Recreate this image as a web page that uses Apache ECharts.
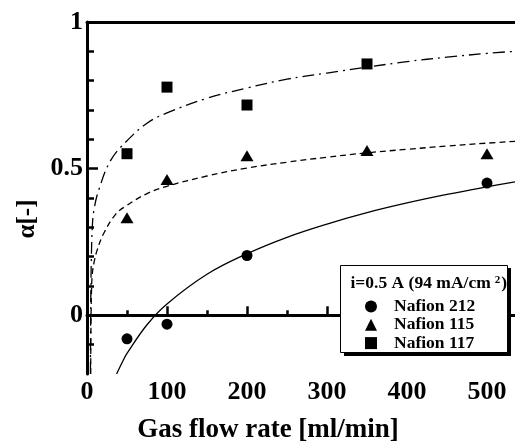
<!DOCTYPE html>
<html><head><meta charset="utf-8">
<script src="https://cdn.jsdelivr.net/npm/echarts@6/dist/echarts.min.js"></script>
<style>html,body{margin:0;padding:0;background:#fff}#c{width:515px;height:444px}</style>
</head><body><div id="c"></div>
<script>
// measured data
const x212 = [50, 100, 200, 500];
const y212 = [-0.08, -0.03, 0.204, 0.451];
const x115 = [50, 100, 200, 350, 500];
const y115 = [0.333, 0.463, 0.544, 0.562, 0.551];
const x117 = [50, 100, 200, 350];
const y117 = [0.551, 0.778, 0.717, 0.857];

// fitted curves
const fit212X = [37, 45, 50, 75, 100, 150, 200, 250, 300, 350, 400, 450, 500, 535];
const fit212Y = [-0.2, -0.155, -0.13, -0.032, 0.039, 0.14, 0.21, 0.266, 0.311, 0.35, 0.383, 0.412, 0.438, 0.455];
const fit115X = [4.6, 5.0, 5.6, 6.6, 8.75, 13, 21, 36, 50, 75, 100, 150, 200, 250, 300, 350, 400, 450, 500, 535];
const fit115Y = [-0.2, -0.02, 0.08, 0.14, 0.18, 0.225, 0.28, 0.345, 0.375, 0.415, 0.44, 0.475, 0.502, 0.522, 0.539, 0.554, 0.566, 0.577, 0.587, 0.593];
const fit117X = [4.3, 4.6, 5.0, 5.4, 6.6, 8.75, 15, 30, 50, 75, 100, 150, 200, 250, 300, 350, 400, 450, 500, 535];
const fit117Y = [-0.2, 0.0, 0.12, 0.19, 0.30, 0.36, 0.43, 0.53, 0.595, 0.655, 0.69, 0.74, 0.775, 0.805, 0.826, 0.846, 0.865, 0.88, 0.893, 0.90];

const xTicks = [0, 100, 200, 300, 400, 500];
const xMinorTicks = [50, 150, 250, 350, 450];
const yTicks = [0, 0.5, 1];
const yMinorTicks = [-0.1, 0.1, 0.2, 0.3, 0.4, 0.6, 0.7, 0.8, 0.9];
const seriesNames = ['Nafion 212', 'Nafion 115', 'Nafion 117'];

const zip = (xs, ys) => xs.map((x, i) => [x, ys[i]]);
const FONT = '"Liberation Serif", "Times New Roman", serif';
const XMIN = 0, XMAX = 535, YMIN = -0.2, YMAX = 1;
const lineBlack = {color: '#000', width: 3};
const tickStyle = {color: '#000', width: 2.5};
const markStyle = {color: '#000', opacity: 1};

const chart = echarts.init(document.getElementById('c'), null, {renderer: 'canvas'});
chart.setOption({
  animation: false,
  backgroundColor: '#fff',
  grid: {left: 87, right: 0, top: 22, bottom: 70},
  xAxis: [
    {type: 'value', min: XMIN, max: XMAX, position: 'bottom',
     axisLine: {show: true, lineStyle: lineBlack},
     axisTick: {show: true, inside: true, length: 9, lineStyle: tickStyle, customValues: xTicks},
     axisLabel: {customValues: xTicks, fontFamily: FONT, fontWeight: 'bold', fontSize: 26, color: '#000', margin: 5},
     splitLine: {show: false}},
    {type: 'value', min: XMIN, max: XMAX, position: 'bottom',
     axisLine: {show: false},
     axisTick: {show: true, inside: true, length: 5, lineStyle: tickStyle, customValues: xMinorTicks},
     axisLabel: {show: false}, splitLine: {show: false}},
    {type: 'value', min: XMIN, max: XMAX, position: 'top',
     axisLine: {show: true, lineStyle: lineBlack},
     axisTick: {show: false}, axisLabel: {show: false}, splitLine: {show: false}}
  ],
  yAxis: [
    {type: 'value', min: YMIN, max: YMAX, position: 'left',
     axisLine: {show: true, lineStyle: lineBlack},
     axisTick: {show: true, inside: true, length: 11, lineStyle: tickStyle, customValues: yTicks},
     axisLabel: {customValues: yTicks, fontFamily: FONT, fontWeight: 'bold', fontSize: 26, color: '#000', margin: 4},
     splitLine: {show: false}},
    {type: 'value', min: YMIN, max: YMAX, position: 'left',
     axisLine: {show: false},
     axisTick: {show: true, inside: true, length: 7, lineStyle: tickStyle, customValues: yMinorTicks},
     axisLabel: {show: false}, splitLine: {show: false}}
  ],
  legend: {
    data: seriesNames, orient: 'vertical', left: 365, top: 297.5,
    itemWidth: 12, itemHeight: 12, itemGap: 0.3, padding: 0, z: 60,
    itemStyle: {opacity: 1},
    textStyle: {fontFamily: FONT, fontWeight: 'bold', fontSize: 17.5, color: '#000', lineHeight: 17, padding: [0, 0, 0, 12]},
    selectedMode: false
  },
  graphic: [
    {type: 'rect', z: 50, shape: {x: 344, y: 268, width: 167, height: 88}, style: {fill: '#000'}},
    {type: 'rect', z: 51, shape: {x: 340.5, y: 265.5, width: 167, height: 87}, style: {fill: '#fff', stroke: '#000', lineWidth: 1}},
    {type: 'text', z: 52, x: 350.5, y: 283,
     style: {text: '{a|i=0.5 A (94 mA/cm}{s|2}{a|)}', verticalAlign: 'middle', align: 'left',
       rich: {a: {fontFamily: FONT, fontWeight: 'bold', fontSize: 17.5, fill: '#000', lineHeight: 17},
              s: {fontFamily: FONT, fontWeight: 'bold', fontSize: 11, fill: '#000', verticalAlign: 'top', padding: [0, 1, 0, 4], lineHeight: 17}}}},
    {type: 'text', z: 52, x: 268, y: 430,
     style: {text: 'Gas flow rate [ml/min]', fontFamily: FONT, fontWeight: 'bold', fontSize: 27, fill: '#000', align: 'center', verticalAlign: 'middle'}},
    {type: 'text', z: 52, x: 28, y: 219, rotation: Math.PI / 2,
     style: {text: 'α[-]', fontFamily: FONT, fontWeight: 'bold', fontSize: 25, fill: '#000', align: 'center', verticalAlign: 'middle'}}
  ],
  series: [
    {name: 'fit 212', type: 'line', data: zip(fit212X, fit212Y), showSymbol: false, smooth: 0.4,
     lineStyle: {color: '#000', width: 1.3, type: 'solid'}, silent: true, z: 2},
    {name: 'fit 115', type: 'line', data: zip(fit115X, fit115Y), showSymbol: false, smooth: 0.4,
     lineStyle: {color: '#000', width: 1.3, type: [6, 4]}, silent: true, z: 2},
    {name: 'fit 117', type: 'line', data: zip(fit117X, fit117Y), showSymbol: false, smooth: 0.4,
     lineStyle: {color: '#000', width: 1.3, type: [12, 5, 2, 5]}, silent: true, z: 2},
    {name: seriesNames[0], type: 'scatter', data: zip(x212, y212), symbol: 'circle', symbolSize: 11, itemStyle: markStyle, z: 3},
    {name: seriesNames[1], type: 'scatter', data: zip(x115, y115), symbol: 'triangle', symbolSize: [13, 11], itemStyle: markStyle, z: 3},
    {name: seriesNames[2], type: 'scatter', data: zip(x117, y117), symbol: 'rect', symbolSize: 11, itemStyle: markStyle, z: 3}
  ]
});
</script>
</body></html>
